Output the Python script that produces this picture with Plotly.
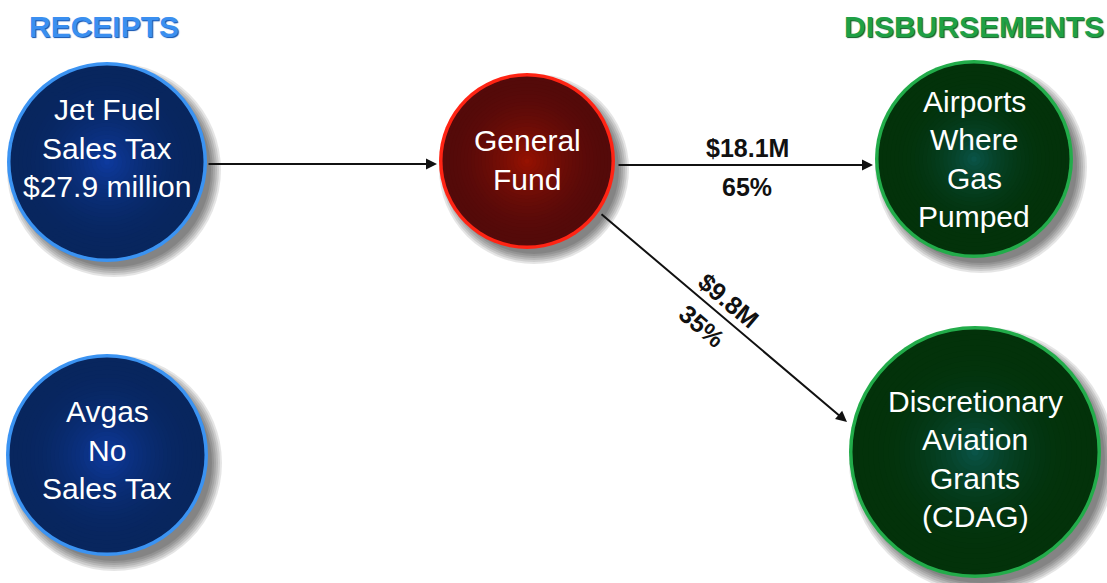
import plotly.graph_objects as go

# ---------------- data ----------------
headers = ["RECEIPTS", "DISBURSEMENTS"]
node_names = ["Jet Fuel", "Avgas", "General Fund", "Airports", "CDAG"]
node_lines = [
    ["Jet Fuel", "Sales Tax", "$27.9 million"],
    ["Avgas", "No", "Sales Tax"],
    ["General", "Fund"],
    ["Airports", "Where", "Gas", "Pumped"],
    ["Discretionary", "Aviation", "Grants", "(CDAG)"],
]
receipt_total_m = 27.9
flow_amounts_m = [18.1, 9.8]
flow_pcts = [65, 35]

# ---------------- layout constants (pixel space) ----------------
W, H = 1107, 583
FONT = "Liberation Sans, Arial, sans-serif"
node_pos = [(107, 162), (107, 455), (527, 161), (974, 159), (975, 452)]
node_r = [100, 101, 88, 99, 126]
text_cy = [148, 450, 160, 159, 459]
node_style = ["blue", "blue", "red", "green", "green"]
styles = {
    "blue": dict(edge=(8, 38, 94), center=(14, 58, 158), border="#3b93f2", g=2.0),
    "red": dict(edge=(84, 10, 10), center=(150, 18, 2), border="#ff2414", g=1.8),
    "green": dict(edge=(3, 50, 10), center=(10, 84, 72), border="#22ac4a", g=2.6),
}
line_gap = 38.5

fig = go.Figure()
shapes = []


def rgb(c):
    return "rgb(%d,%d,%d)" % c


for (cx, cy), r, st in zip(node_pos, node_r, node_style):
    s = styles[st]
    # soft shadow
    for j in range(6):
        rr = r + 7 - 2 * j
        shapes.append(dict(type="circle", xref="x", yref="y",
                           x0=cx + 7 - rr, x1=cx + 7 + rr,
                           y0=cy + 8 - rr, y1=cy + 8 + rr,
                           fillcolor="rgba(0,0,0,0.10)", line_width=0, layer="below"))
    # border disk
    shapes.append(dict(type="circle", xref="x", yref="y",
                       x0=cx - r, x1=cx + r, y0=cy - r, y1=cy + r,
                       fillcolor=s["border"], line_width=0, layer="below"))
    # radial gradient via concentric circles
    N = 24
    r_in = r - 3.5
    for i in range(N):
        t = i / (N - 1)
        rr = r_in * (1 - t * 0.97)
        w = t ** s["g"]
        col = tuple(int(s["edge"][k] + (s["center"][k] - s["edge"][k]) * w) for k in range(3))
        shapes.append(dict(type="circle", xref="x", yref="y",
                           x0=cx - rr, x1=cx + rr, y0=cy - rr, y1=cy + rr,
                           fillcolor=rgb(col), line_width=0, layer="below"))

annotations = []
# node labels
for (cx, cy), tcy, lines in zip(node_pos, text_cy, node_lines):
    n = len(lines)
    for k, txt in enumerate(lines):
        y = tcy + (k - (n - 1) / 2) * line_gap
        annotations.append(dict(x=cx, y=y, xref="x", yref="y", text=txt,
                                showarrow=False, xanchor="center", yanchor="middle",
                                font=dict(family=FONT, size=30, color="white")))

# headers
annotations.append(dict(x=104, y=26, xref="x", yref="y", text="<b>%s</b>" % headers[0],
                        showarrow=False, font=dict(family=FONT, size=30, color="#3a8ff0",
                                                   shadow="1px 1px 1px #0b4fb0")))
annotations.append(dict(x=974, y=26, xref="x", yref="y", text="<b>%s</b>" % headers[1],
                        showarrow=False, font=dict(family=FONT, size=30, color="#1fa045",
                                                   shadow="1px 1px 1px #0b5a22")))

# arrows
arrows = [((207, 164), (437, 164)), ((617, 165), (873, 165)), ((600, 213), (847, 422))]
for (x0, y0), (x1, y1) in arrows:
    annotations.append(dict(x=x1, y=y1, ax=x0, ay=y0, xref="x", yref="y",
                            axref="x", ayref="y", showarrow=True, text="",
                            arrowhead=2, arrowsize=1.1, arrowwidth=2, arrowcolor="#111"))

# flow labels
LBL = dict(family=FONT, size=25, color="#111")
annotations.append(dict(x=747, y=148, xref="x", yref="y",
                        text="<b>$%.1fM</b>" % flow_amounts_m[0], showarrow=False, font=LBL))
annotations.append(dict(x=747, y=187, xref="x", yref="y",
                        text="<b>%d%%</b>" % flow_pcts[0], showarrow=False, font=LBL))
annotations.append(dict(x=728, y=300, xref="x", yref="y",
                        text="<b>$%.1fM</b>" % flow_amounts_m[1], showarrow=False,
                        textangle=40, font=LBL))
annotations.append(dict(x=702, y=326, xref="x", yref="y",
                        text="<b>%d%%</b>" % flow_pcts[1], showarrow=False,
                        textangle=40, font=LBL))

fig.update_layout(
    width=W, height=H, margin=dict(l=0, r=0, t=0, b=0),
    paper_bgcolor="white", plot_bgcolor="white",
    xaxis=dict(range=[0, W], visible=False, fixedrange=True),
    yaxis=dict(range=[H, 0], visible=False, fixedrange=True),
    shapes=shapes, annotations=annotations, showlegend=False,
)
fig.write_html("out.html", config=dict(displayModeBar=False),
               post_script="document.body.style.margin='0';document.body.style.overflow='hidden';")
